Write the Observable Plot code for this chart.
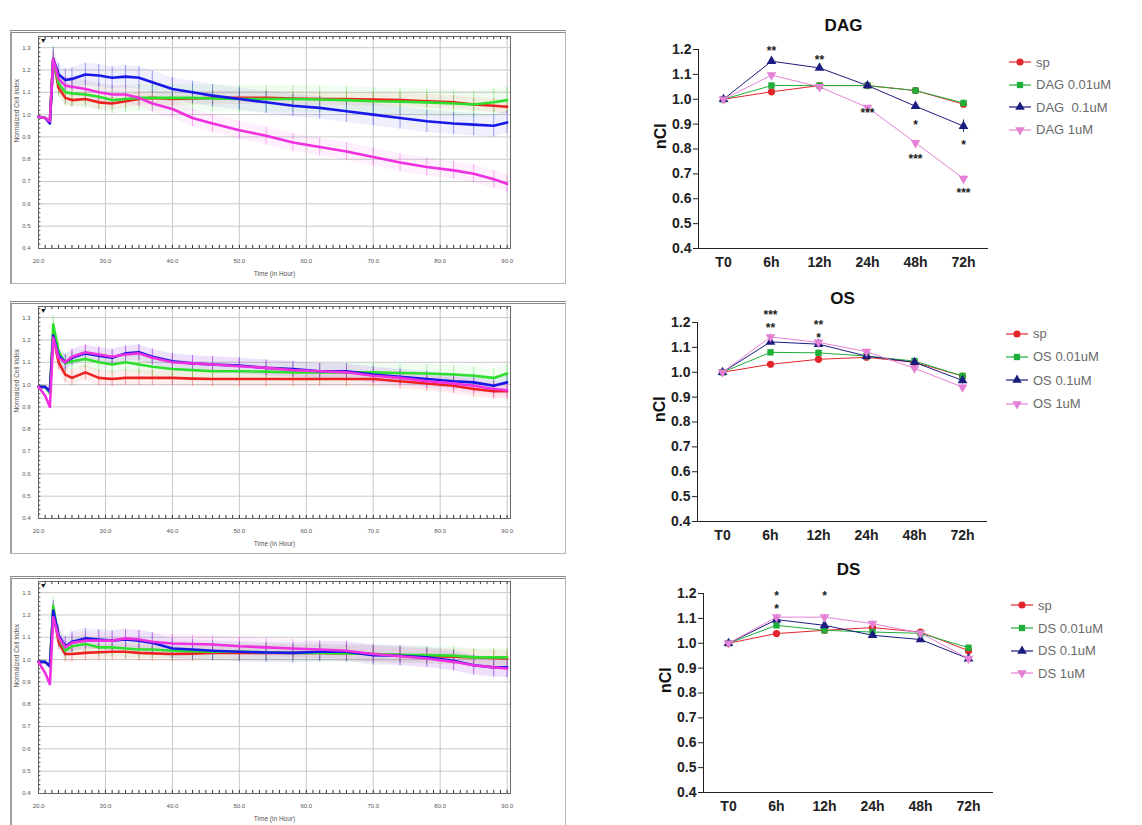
<!DOCTYPE html>
<html>
<head>
<meta charset="utf-8">
<script src="https://cdn.jsdelivr.net/npm/d3@7"></script>
<script src="https://cdn.jsdelivr.net/npm/@observablehq/plot@0.6"></script>
<style>
  html, body { margin: 0; padding: 0; background: #fff; }
  body { position: relative; width: 1142px; height: 825px; overflow: hidden; font-family: "Liberation Sans", Arial, sans-serif; }
  .abs { position: absolute; }
  .box { position: absolute; border: 1px solid #b5b5b5; border-top: 3px double #8a8a8a; border-left: 2px solid #a0a0a0; box-sizing: border-box; }
  .leg { position: absolute; font-size: 13px; color: #6a6a6a; white-space: pre; }
  .leg div { display: flex; align-items: center; }
  .leg svg { margin-right: 3px; }
</style>
</head>
<body>
<script>
// ---------------- DATA ----------------
// Left panels: real-time normalized cell index (time in hours)
const T = [20, 21, 21.7, 22.2, 23, 24, 25, 27, 29, 31, 33, 35, 37, 40, 43, 46, 50, 54, 58, 62, 66, 70, 74, 78, 82, 85, 88, 90];

const dagSp   = [0.99, 0.985, 0.97, 1.25, 1.12, 1.075, 1.065, 1.07, 1.055, 1.05, 1.06, 1.07, 1.075, 1.07, 1.072, 1.075, 1.075, 1.075, 1.072, 1.07, 1.07, 1.068, 1.065, 1.06, 1.055, 1.045, 1.04, 1.035];
const dagLow  = [0.99, 0.985, 0.97, 1.25, 1.14, 1.10, 1.095, 1.09, 1.08, 1.065, 1.07, 1.075, 1.075, 1.075, 1.075, 1.072, 1.07, 1.07, 1.07, 1.068, 1.065, 1.06, 1.058, 1.055, 1.05, 1.045, 1.055, 1.065];
const dagMid  = [0.99, 0.985, 0.96, 1.25, 1.18, 1.155, 1.16, 1.18, 1.175, 1.165, 1.17, 1.165, 1.145, 1.115, 1.10, 1.085, 1.07, 1.055, 1.04, 1.03, 1.015, 1.0, 0.985, 0.97, 0.96, 0.955, 0.95, 0.965];
const dagHigh = [0.99, 0.985, 0.97, 1.25, 1.16, 1.13, 1.125, 1.115, 1.10, 1.09, 1.09, 1.075, 1.05, 1.025, 0.985, 0.96, 0.93, 0.905, 0.875, 0.855, 0.835, 0.81, 0.785, 0.765, 0.75, 0.735, 0.71, 0.69];
const dagErr  = [0.03, 0.06, 0.05, 0.04];

const osSp   = [0.99, 0.99, 0.97, 1.22, 1.10, 1.045, 1.03, 1.055, 1.03, 1.025, 1.03, 1.03, 1.03, 1.03, 1.027, 1.025, 1.025, 1.025, 1.025, 1.025, 1.025, 1.025, 1.015, 1.005, 0.995, 0.98, 0.97, 0.97];
const osLow  = [0.99, 0.99, 0.96, 1.27, 1.15, 1.095, 1.105, 1.115, 1.10, 1.09, 1.10, 1.09, 1.08, 1.07, 1.065, 1.06, 1.06, 1.058, 1.055, 1.055, 1.055, 1.055, 1.052, 1.05, 1.045, 1.04, 1.03, 1.05];
const osMid  = [0.99, 0.99, 0.97, 1.22, 1.13, 1.10, 1.12, 1.14, 1.13, 1.12, 1.14, 1.145, 1.125, 1.105, 1.095, 1.09, 1.085, 1.075, 1.07, 1.06, 1.06, 1.045, 1.035, 1.025, 1.015, 1.01, 0.995, 1.01];
const osHigh = [0.99, 0.95, 0.90, 1.21, 1.12, 1.10, 1.125, 1.145, 1.135, 1.125, 1.135, 1.14, 1.12, 1.10, 1.095, 1.09, 1.082, 1.075, 1.065, 1.06, 1.055, 1.04, 1.03, 1.015, 1.005, 0.995, 0.98, 0.975];
const osErr  = [0.035, 0.04, 0.035, 0.035];

const dsSp   = [0.99, 0.99, 0.97, 1.22, 1.08, 1.025, 1.025, 1.03, 1.033, 1.035, 1.035, 1.03, 1.028, 1.025, 1.027, 1.03, 1.03, 1.03, 1.03, 1.03, 1.028, 1.025, 1.02, 1.015, 1.013, 1.01, 1.007, 1.005];
const dsLow  = [0.99, 0.99, 0.97, 1.24, 1.10, 1.04, 1.06, 1.07, 1.055, 1.055, 1.05, 1.045, 1.045, 1.04, 1.038, 1.035, 1.035, 1.033, 1.03, 1.03, 1.028, 1.025, 1.022, 1.02, 1.018, 1.01, 1.01, 1.01];
const dsMid  = [0.99, 0.99, 0.97, 1.22, 1.11, 1.06, 1.08, 1.095, 1.09, 1.085, 1.09, 1.085, 1.075, 1.05, 1.045, 1.04, 1.035, 1.032, 1.03, 1.035, 1.035, 1.02, 1.017, 1.01, 0.995, 0.975, 0.965, 0.965];
const dsHigh = [0.99, 0.94, 0.89, 1.19, 1.10, 1.055, 1.075, 1.085, 1.085, 1.085, 1.095, 1.09, 1.08, 1.072, 1.07, 1.068, 1.06, 1.055, 1.05, 1.045, 1.04, 1.025, 1.015, 1.005, 0.99, 0.975, 0.965, 0.96];
const dsErr  = [0.035, 0.04, 0.045, 0.04];

const xTicks = [20, 30, 40, 50, 60, 70, 80, 90];
const yTicksLeft = [0.4, 0.5, 0.6, 0.7, 0.8, 0.9, 1.0, 1.1, 1.2, 1.3];
const leftColors = ["#ee2020", "#2ee02e", "#1818e8", "#f030e0"];

// Right panels: nCI at time points
const cats = ["T0", "6h", "12h", "24h", "48h", "72h"];
const yTicksRight = [0.4, 0.5, 0.6, 0.7, 0.8, 0.9, 1.0, 1.1, 1.2];

const dagSpN   = [1.0, 1.03, 1.055, 1.055, 1.035, 0.98];
const dagLowN  = [1.0, 1.055, 1.055, 1.055, 1.035, 0.985];
const dagMidN  = [1.0, 1.153, 1.126, 1.055, 0.972, 0.892];
const dagHighN = [1.0, 1.097, 1.05, 0.967, 0.825, 0.681];
const dagSpE   = [0.005, 0.01, 0.008, 0.006, 0.008, 0.01];
const dagLowE  = [0.005, 0.012, 0.008, 0.006, 0.01, 0.012];
const dagMidE  = [0.005, 0.008, 0.008, 0.008, 0.012, 0.025];
const dagHighE = [0.005, 0.01, 0.008, 0.008, 0.01, 0.012];

const osSpN   = [1.0, 1.032, 1.052, 1.06, 1.04, 0.985];
const osLowN  = [1.0, 1.08, 1.078, 1.065, 1.045, 0.985];
const osMidN  = [1.0, 1.122, 1.113, 1.065, 1.04, 0.967];
const osHighN = [1.0, 1.142, 1.12, 1.083, 1.016, 0.94];
const osSpE   = [0.005, 0.008, 0.008, 0.008, 0.008, 0.01];
const osLowE  = [0.005, 0.01, 0.01, 0.008, 0.008, 0.01];
const osMidE  = [0.005, 0.01, 0.01, 0.01, 0.01, 0.015];
const osHighE = [0.005, 0.012, 0.012, 0.01, 0.012, 0.02];

const dsSpN   = [1.0, 1.039, 1.052, 1.063, 1.045, 0.97];
const dsLowN  = [1.0, 1.072, 1.052, 1.045, 1.04, 0.982];
const dsMidN  = [1.0, 1.095, 1.072, 1.032, 1.015, 0.938];
const dsHighN = [1.0, 1.105, 1.105, 1.079, 1.041, 0.938];
const dsSpE   = [0.005, 0.012, 0.008, 0.008, 0.008, 0.01];
const dsLowE  = [0.005, 0.01, 0.008, 0.008, 0.008, 0.01];
const dsMidE  = [0.005, 0.01, 0.01, 0.01, 0.01, 0.015];
const dsHighE = [0.005, 0.01, 0.01, 0.01, 0.01, 0.015];

const dagStarT = ["6h", "12h", "24h", "48h", "48h", "72h", "72h"];
const dagStarY = [1.204, 1.17, 0.956, 0.909, 0.771, 0.829, 0.634];
const dagStarS = ["**", "**", "***", "*", "***", "*", "***"];
const osStarT = ["6h", "6h", "12h", "12h"];
const osStarY = [1.242, 1.19, 1.2, 1.148];
const osStarS = ["***", "**", "**", "*"];
const dsStarT = ["6h", "6h", "12h"];
const dsStarY = [1.2, 1.148, 1.2];
const dsStarS = ["*", "*", "*"];

const rightColors = ["#e3262b", "#1fae3a", "#1c1c80", "#e682d6"];
const dagNames = ["sp", "DAG 0.01uM", "DAG  0.1uM", "DAG 1uM"];
const osNames  = ["sp", "OS 0.01uM", "OS 0.1uM", "OS 1uM"];
const dsNames  = ["sp", "DS 0.01uM", "DS 0.1uM", "DS 1uM"];

// ---------------- HELPERS ----------------
const downTriangle = {
  draw(ctx, size) {
    const y = Math.sqrt(size / (Math.sqrt(3) * 3));
    ctx.moveTo(0, 2 * y);
    ctx.lineTo(-Math.sqrt(3) * y, -y);
    ctx.lineTo(Math.sqrt(3) * y, -y);
    ctx.closePath();
  }
};
const symbols = ["circle", "square", "triangle", downTriangle];

function place(node, left, top) {
  node.classList.add("abs");
  node.style.left = left + "px";
  node.style.top = top + "px";
  document.body.appendChild(node);
}

function leftPanel(top, series, errs) {
  const marks = [
    Plot.gridX(xTicks, {stroke: "#c8c8c8", strokeOpacity: 1}),
    Plot.gridY(yTicksLeft, {stroke: "#c8c8c8", strokeOpacity: 1}),
    Plot.ruleX(d3.range(20, 91, 1), {y1: 1.35, y2: 1.336, stroke: "#333"}),
    Plot.ruleX(d3.range(20, 91, 1), {y1: 0.4, y2: 0.414, stroke: "#333"}),
    Plot.ruleY(d3.range(0.4, 1.35, 0.02), {x1: 20, x2: 20.35, stroke: "#444"}),
    Plot.frame({stroke: "#666"}),
    Plot.axisX(xTicks, {tickFormat: d => d.toFixed(1), fontSize: 6, fill: "#555", tickSize: 0, tickPadding: 10, label: null}),
    Plot.axisY(yTicksLeft, {tickFormat: d => d.toFixed(1), fontSize: 6, fill: "#555", tickSize: 0, tickPadding: 8, label: null}),
    Plot.text(["Time (in Hour)"], {frameAnchor: "bottom", dy: 27, fontSize: 6.5, fill: "#555"}),
    Plot.text(["Normalized Cell Index"], {frameAnchor: "left", dx: -22, rotate: -90, fontSize: 6.5, fill: "#555"}),
    Plot.text(["▼"], {x: 20.7, frameAnchor: "top", dy: 2, fontSize: 7, fill: "#111"})
  ];
  series.forEach((vals, i) => {
    const rows = T.map((t, j) => ({t, v: vals[j]})).slice(3);
    marks.push(Plot.areaY(rows, {x: "t", y1: d => d.v - errs[i], y2: d => d.v + errs[i], fill: leftColors[i], fillOpacity: 0.07}));
    marks.push(Plot.ruleX(rows, {x: "t", y1: d => d.v - errs[i], y2: d => d.v + errs[i], stroke: leftColors[i], strokeOpacity: 0.4, strokeWidth: 1}));
  });
  series.forEach((vals, i) => {
    const rows = T.map((t, j) => ({t, v: vals[j]}));
    marks.push(Plot.line(rows, {x: "t", y: "v", stroke: leftColors[i], strokeWidth: 2.6}));
  });
  const p = Plot.plot({
    width: 570, height: 255,
    marginLeft: 38, marginRight: 60, marginTop: 6, marginBottom: 37,
    style: {fontFamily: "Liberation Sans, Arial, sans-serif", background: "transparent"},
    x: {domain: [20, 90.5]},
    y: {domain: [0.4, 1.35]},
    marks
  });
  place(p, 0, top);
}

function rightPanel(left, top, title, vals, errs, starT, starY, starS) {
  const marks = [
    Plot.ruleY([0.4], {stroke: "#222", strokeWidth: 1.2}),
    Plot.text([title], {frameAnchor: "top", dy: -31, fontSize: 17, fontWeight: "bold", fill: "#111"}),
    Plot.text(["nCI"], {frameAnchor: "left", dx: -38, rotate: -90, fontSize: 16, fontWeight: "bold", fill: "#111"})
  ];
  vals.forEach((v, i) => {
    const rows = cats.map((c, j) => ({c, v: v[j], e: errs[i][j]}));
    marks.push(Plot.line(rows, {x: "c", y: "v", stroke: rightColors[i], strokeWidth: 1}));
    marks.push(Plot.ruleX(rows, {x: "c", y1: d => d.v - d.e, y2: d => d.v + d.e, stroke: rightColors[i], strokeWidth: 1}));
  });
  vals.forEach((v, i) => {
    const rows = cats.map((c, j) => ({c, v: v[j]}));
    marks.push(Plot.dot(rows, {x: "c", y: "v", symbol: symbols[i], fill: rightColors[i], stroke: "none", r: 3.6}));
  });
  const stars = starT.map((t, i) => ({t, y: starY[i], s: starS[i]}));
  marks.push(Plot.text(stars, {x: "t", y: "y", text: "s", fontSize: 12, fontWeight: "bold", fill: "#222", dy: 3}));
  const p = Plot.plot({
    width: 400, height: 275,
    marginLeft: 98, marginRight: 12, marginTop: 49, marginBottom: 27,
    style: {fontFamily: "Liberation Sans, Arial, sans-serif", fontSize: "14px", fontWeight: "bold", color: "#222", background: "transparent", overflow: "visible"},
    x: {type: "point", domain: cats, padding: 0.5, tickSize: 0, tickPadding: 9, label: null},
    y: {domain: [0.4, 1.2], ticks: yTicksRight, tickFormat: d => d.toFixed(1), tickSize: 5, tickPadding: 2, line: true, label: null},
    marks
  });
  place(p, left, top);
}

function legend(left, top, names, spacing) {
  const div = document.createElement("div");
  div.className = "leg";
  div.style.left = left + "px";
  div.style.top = top + "px";
  names.forEach((n, i) => {
    const row = document.createElement("div");
    row.style.height = spacing + "px";
    const svg = d3.create("svg").attr("width", 24).attr("height", 12);
    svg.append("line").attr("x1", 0).attr("x2", 22).attr("y1", 6).attr("y2", 6).attr("stroke", rightColors[i]).attr("stroke-width", 1.2);
    const sym = typeof symbols[i] === "string"
      ? {circle: d3.symbolCircle, square: d3.symbolSquare, triangle: d3.symbolTriangle}[symbols[i]]
      : symbols[i];
    svg.append("path").attr("d", d3.symbol(sym, 40)()).attr("transform", "translate(11,6)").attr("fill", rightColors[i]);
    row.appendChild(svg.node());
    const span = document.createElement("span");
    span.textContent = n;
    row.appendChild(span);
    div.appendChild(row);
  });
  document.body.appendChild(div);
}

// ---------------- FRAMES ----------------
[[10, 30, 556, 254], [10, 301, 556, 253], [10, 576, 556, 260]].forEach(([l, t, w, h]) => {
  const b = document.createElement("div");
  b.className = "box";
  b.style.left = l + "px"; b.style.top = t + "px"; b.style.width = w + "px"; b.style.height = h + "px";
  document.body.appendChild(b);
});

// ---------------- DRAW ----------------
leftPanel(30, [dagSp, dagLow, dagMid, dagHigh], dagErr);
leftPanel(300, [osSp, osLow, osMid, osHigh], osErr);
leftPanel(575, [dsSp, dsLow, dsMid, dsHigh], dsErr);

rightPanel(600, 0, "DAG", [dagSpN, dagLowN, dagMidN, dagHighN], [dagSpE, dagLowE, dagMidE, dagHighE], dagStarT, dagStarY, dagStarS);
rightPanel(599, 273, "OS", [osSpN, osLowN, osMidN, osHighN], [osSpE, osLowE, osMidE, osHighE], osStarT, osStarY, osStarS);
rightPanel(605, 544, "DS", [dsSpN, dsLowN, dsMidN, dsHighN], [dsSpE, dsLowE, dsMidE, dsHighE], dsStarT, dsStarY, dsStarS);

legend(1009, 51, dagNames, 22.5);
legend(1006, 322, osNames, 23.3);
legend(1011, 594, dsNames, 22.7);
</script>
</body>
</html>
